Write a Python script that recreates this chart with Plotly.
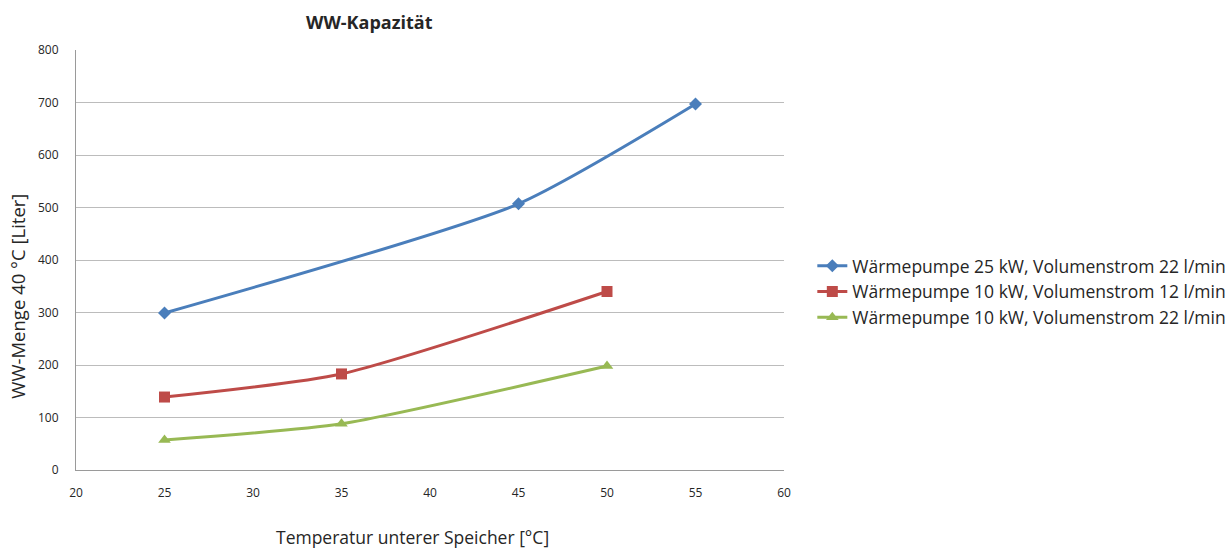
import plotly.graph_objects as go

x_blue = [25, 45, 55]
y_blue = [299, 507, 697]
x_red = [25, 35, 50]
y_red = [139, 183, 340]
x_green = [25, 35, 50]
y_green = [57, 88, 198]

names = [
    "Wärmepumpe 25 kW, Volumenstrom 22 l/min",
    "Wärmepumpe 10 kW, Volumenstrom 12 l/min",
    "Wärmepumpe 10 kW, Volumenstrom 22 l/min",
]

FONT = "Open Sans"
TXT = "#262626"
fig = go.Figure()
fig.add_trace(go.Scatter(x=x_blue, y=y_blue, name=names[0], mode="lines+markers",
                         line=dict(color="#4a7ebb", width=3, shape="spline", smoothing=0.6),
                         marker=dict(symbol="diamond", size=10, color="#4a7ebb")))
fig.add_trace(go.Scatter(x=x_red, y=y_red, name=names[1], mode="lines+markers",
                         line=dict(color="#be4b48", width=3, shape="spline", smoothing=0.6),
                         marker=dict(symbol="square", size=11, color="#be4b48")))
fig.add_trace(go.Scatter(x=x_green, y=y_green, name=names[2], mode="lines+markers",
                         line=dict(color="#98b954", width=3, shape="spline", smoothing=0.6),
                         marker=dict(symbol="triangle-up", size=11, color="#98b954")))

fig.update_layout(
    width=1231, height=549,
    margin=dict(l=76, r=447, t=50, b=79, autoexpand=False),
    paper_bgcolor="white", plot_bgcolor="white",
    font=dict(family=FONT, color=TXT),
    legend=dict(x=1.04, y=0.424, xanchor="left", yanchor="middle",
                font=dict(size=17.5, family=FONT, color=TXT),
                tracegroupgap=0),
    xaxis=dict(range=[20, 60], dtick=5, showgrid=False, showline=True,
               linecolor="#9a9a9a", linewidth=1, ticks="outside", ticklen=12,
               tickcolor="rgba(0,0,0,0)", zeroline=False,
               tickfont=dict(size=12, family=FONT, color=TXT)),
    yaxis=dict(range=[0, 800], dtick=100, showgrid=True, gridcolor="#bcbcbc", gridwidth=1,
               showline=True, linecolor="#9a9a9a", linewidth=1, ticks="outside", ticklen=14,
               tickcolor="rgba(0,0,0,0)", zeroline=False,
               tickfont=dict(size=12, family=FONT, color=TXT)),
    annotations=[
        dict(text="<b>WW-Kapazität</b>", xref="paper", yref="paper", x=0.415, y=1.0667,
             xanchor="center", yanchor="middle", showarrow=False,
             font=dict(size=18, family=FONT, color=TXT)),
        dict(text="Temperatur unterer Speicher [°C]", xref="paper", yref="paper",
             x=0.4746, y=-0.16, xanchor="center", yanchor="middle", showarrow=False,
             font=dict(size=17.5, family=FONT, color=TXT)),
        dict(text="WW-Menge 40 °C [Liter]", xref="paper", yref="paper",
             x=-0.082, y=0.415, xanchor="center", yanchor="middle", showarrow=False,
             textangle=-90, font=dict(size=18.5, family=FONT, color=TXT)),
    ],
)

fig.write_html("out.html", config={"displayModeBar": False},
               post_script="document.body.style.margin='0';document.body.style.overflow='hidden';")
